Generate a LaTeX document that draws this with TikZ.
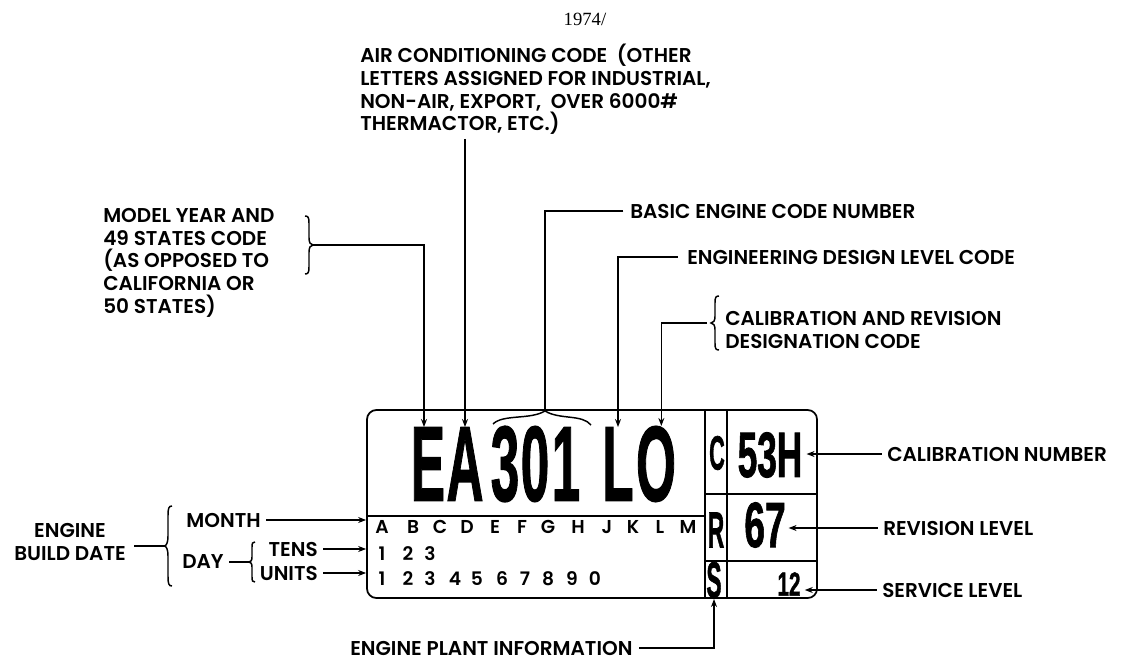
\documentclass[tikz,border=0pt]{standalone}
\usepackage{fontspec}
\usepackage{graphicx}
\setmainfont{Poppins}[BoldFont={Poppins SemiBold}]
\newfontfamily\codefont{Liberation Sans}[BoldFeatures={FakeBold=1.5}]
\newfontfamily\yrfont{Liberation Serif}
\usetikzlibrary{arrows.meta}
\newcommand{\cond}[3]{\scalebox{#1}[1]{\fontsize{#2}{#2}\selectfont\codefont\bfseries #3}}
\newcommand{\bracepath}{\draw[ln] (1,-1) .. controls (0.6,-1) and (0.5,-0.95) .. (0.5,-0.75) -- (0.5,-0.25) .. controls (0.5,-0.08) and (0.3,0) .. (0,0) .. controls (0.3,0) and (0.5,0.08) .. (0.5,0.25) -- (0.5,0.75) .. controls (0.5,0.95) and (0.6,1) .. (1,1);}
\begin{document}
\begin{tikzpicture}[x=0.75pt,y=-0.75pt,
 lbl/.style={font=\fontsize{15}{17}\selectfont\bfseries,inner sep=0pt,align=left},
 ln/.style={line width=1.1pt},
 arr/.style={ln,-{Stealth[length=6pt,width=4.5pt]}},
 bigch/.style={inner sep=0pt},
 tiny/.style={font=\fontsize{14}{14}\selectfont\bfseries,inner sep=0pt}]
\useasboundingbox (0,0) rectangle (1123,666);

\node[font=\fontsize{14}{14}\selectfont\yrfont] (yr) at (585,19) {1974/};

% labels
\node[lbl,anchor=north west] (ac) at (360,44) {AIR CONDITIONING CODE\ \ (OTHER\\LETTERS ASSIGNED FOR INDUSTRIAL,\\NON-AIR, EXPORT,\ \ OVER 6000\#\\THERMACTOR, ETC.)};
\node[lbl,anchor=north west] (my) at (103,208) {MODEL YEAR AND\\49 STATES CODE\\(AS OPPOSED TO\\CALIFORNIA OR\\50 STATES)};
\node[lbl,anchor=west] (basic) at (630,211) {BASIC ENGINE CODE NUMBER};
\node[lbl,anchor=west] (eng) at (687,257) {ENGINEERING DESIGN LEVEL CODE};
\node[lbl,anchor=north west] (crd) at (725,311) {CALIBRATION AND REVISION\\DESIGNATION CODE};
\node[lbl,anchor=west] (calnum) at (887,454) {CALIBRATION NUMBER};
\node[lbl,anchor=west] (revlvl) at (883,528) {REVISION LEVEL};
\node[lbl,anchor=west] (svclvl) at (882,590) {SERVICE LEVEL};
\node[lbl,anchor=west] (plant) at (350,648) {ENGINE PLANT INFORMATION};
\node[lbl,anchor=north,align=center] (ebd) at (70,523) {ENGINE\\BUILD DATE};
\node[lbl,anchor=east] (month) at (261,520) {MONTH};
\node[lbl,anchor=west] (day) at (182,562) {DAY};
\node[lbl,anchor=east] (tens) at (318,549) {TENS};
\node[lbl,anchor=east] (units) at (318,573) {UNITS};

% plate
\node[draw,line width=1.3pt,rounded corners=7pt,minimum width=337.5pt,minimum height=141pt,inner sep=0pt] (plate) at (592,504) {};
\draw[ln] (367,516) -- (705,516);
\draw[ln] (705,410) -- (705,598);
\draw[ln] (727,410) -- (727,598);
\draw[ln] (705,494) -- (817,494);
\draw[ln] (705,561) -- (817,561);

% big code
\node[bigch] (cE) at (428,464) {\cond{0.48}{80}{E}};
\node[bigch] (cA) at (465,464) {\cond{0.48}{80}{A}};
\node[bigch] (c3) at (505,464) {\cond{0.48}{80}{3}};
\node[bigch] (c0) at (535,464) {\cond{0.48}{80}{0}};
\node[bigch] (c1) at (566,464) {\cond{0.48}{80}{1}};
\node[bigch] (cL) at (618,464) {\cond{0.48}{80}{L}};
\node[bigch] (cO) at (656,464) {\cond{0.48}{80}{O}};

\node[bigch] (nC) at (717,453) {\cond{0.45}{36}{C}};
\node[bigch] (nR) at (716,530) {\cond{0.45}{38}{R}};
\node[bigch] (nS) at (714,580) {\cond{0.45}{38}{S}};
\node[bigch] (n53) at (770,455) {\cond{0.55}{48}{53H}};
\node[bigch] (n67) at (765,525) {\cond{0.58}{48}{67}};
\node[bigch] (n12) at (789,584) {\cond{0.62}{25}{12}};

\foreach \ch/\x [count=\i] in {A/382,B/413,C/440,D/467,E/495,F/522,G/548,H/578,J/607,K/633,L/660,M/688}
  \node[tiny] (m\i) at (\x,527) {\ch};
\foreach \ch/\x [count=\i] in {1/382,2/408,3/430}
  \node[tiny] (t\i) at (\x,554) {\ch};
\foreach \ch/\x [count=\i] in {1/382,2/408,3/430,4/455,5/477,6/502,7/525,8/548,9/572,0/595}
  \node[tiny] (u\i) at (\x,579) {\ch};

% braces
\begin{scope}[shift={(313,245)},xscale=-8,yscale=29]\bracepath\end{scope}
\begin{scope}[shift={(711,323)},xscale=8,yscale=27]\bracepath\end{scope}
\begin{scope}[shift={(164,546)},xscale=8,yscale=40]\bracepath\end{scope}
\begin{scope}[shift={(249,562)},xscale=6,yscale=20]\bracepath\end{scope}
\coordinate (b301) at (545,411);
\draw[ln] (493,424) .. controls (503,414) and (530,420) .. (b301) .. controls (560,420) and (582,414) .. (591,425);

\coordinate (myTip) at (313,245);
\coordinate (crdTip) at (711,323);
\coordinate (ebdTip) at (164,546);
\coordinate (dayTip) at (249,562);
\coordinate (sBot) at (714,599);

% connectors
\draw[arr] (myTip) -| ([xshift=-3pt]cE.north);
\draw[arr] ([yshift=-3pt]ac.south -| cA.north) -- (cA.north);
\draw[ln] ([xshift=-5pt]basic.west) -| (b301);
\draw[arr] ([xshift=-7pt]eng.west) -| (cL.north);
\draw[arr] ([xshift=-3pt]crdTip) -| ([xshift=4pt]cO.north);
\draw[arr] ([xshift=-4pt]calnum.west) -- ([xshift=3pt]calnum.west -| n53.east);
\draw[arr] ([xshift=-4pt]revlvl.west) -- ([xshift=2pt]revlvl.west -| n67.east);
\draw[arr] ([xshift=-4pt]svclvl.west) -- ([xshift=3pt]svclvl.west -| n12.east);
\draw[arr] ([xshift=4pt]month.east) -- (month.east -| plate.west);
\draw[arr] ([xshift=4pt]tens.east) -- (tens.east -| plate.west);
\draw[arr] ([xshift=4pt]units.east) -- (units.east -| plate.west);
\draw[ln] ([xshift=6pt]ebd.east |- ebdTip) -- (ebdTip);
\draw[ln] ([xshift=4pt]day.east) -- (dayTip);
\draw[arr] ([xshift=5pt]plant.east) -| (sBot);
\end{tikzpicture}
\end{document}
